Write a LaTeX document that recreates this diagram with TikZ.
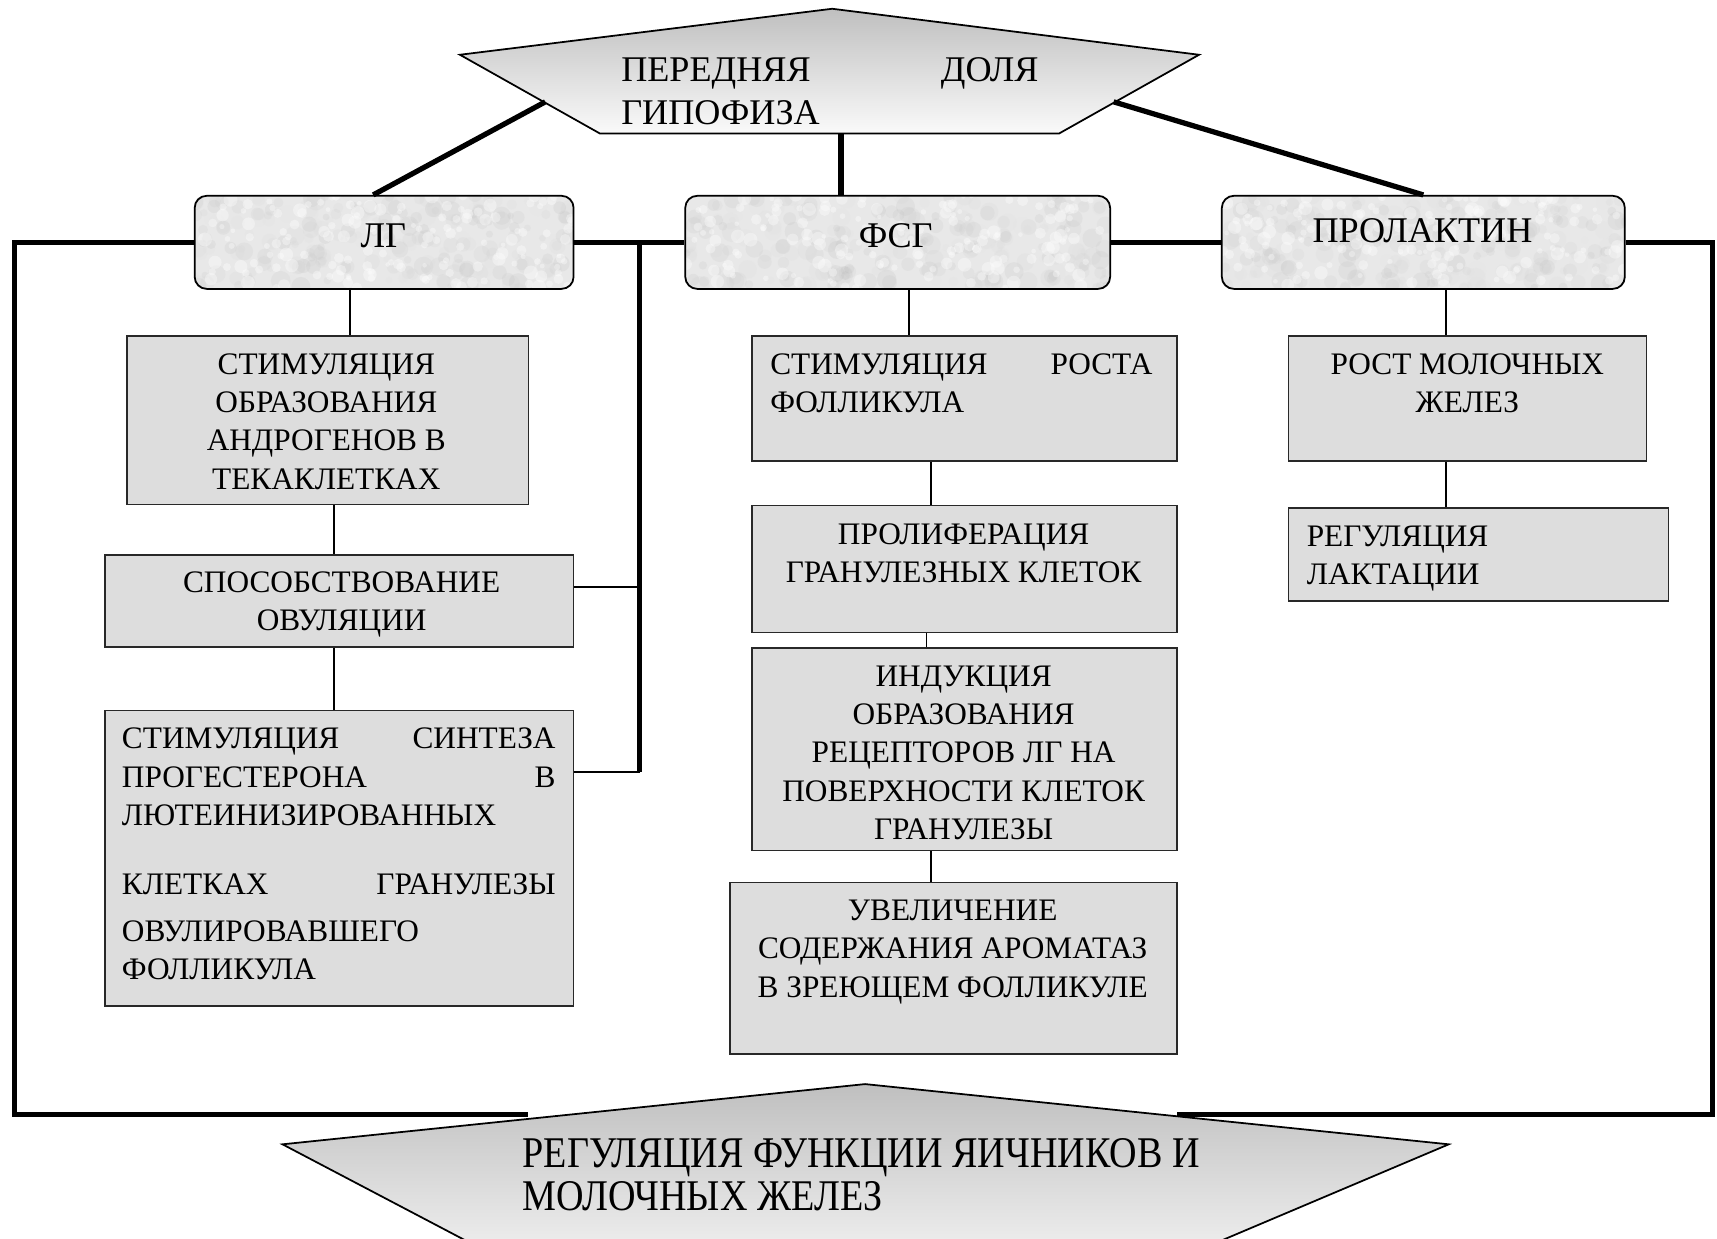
\documentclass[tikz,border=0pt]{standalone}
\usepackage{fontspec}
\setmainfont{Liberation Serif}
\newfontfamily\narrowserif[FakeStretch=0.87]{Liberation Serif}
\usetikzlibrary{calc}

\definecolor{boxgray}{RGB}{221,221,221}
\definecolor{edgegray}{RGB}{40,40,40}
\definecolor{granitebase}{RGB}{232,232,232}

\pgfdeclarelayer{background}
\pgfsetlayers{background,main}

\tikzset{
  fact/.style={rectangle, draw=edgegray, line width=0.75pt, fill=boxgray, inner sep=0pt, anchor=north west},
  horm/.style={rectangle, draw=black, line width=0.8pt, rounded corners=5.5pt, inner sep=0pt, anchor=north west},
  lbl/.style={inner sep=0pt, font=\fontsize{14.3}{17.5}\selectfont},
  big/.style={inner sep=0pt, font=\fontsize{16.5}{19.5}\selectfont},
  heavy/.style={line width=2.4pt},
  medium/.style={line width=1.3pt},
  slim/.style={line width=0.8pt},
  pent/.style={draw=black, line width=0.8pt, top color=gray!50, bottom color=gray!4},
}

% mottled stone texture behind a rounded hormone box
\newcommand\granite[2]{%
  \begin{pgfonlayer}{background}
    \begin{scope}
      \clip[rounded corners=5.5pt] (#1.north west) rectangle (#1.south east);
      \fill[granitebase] (#1.north west) rectangle (#1.south east);
      \foreach \k in {1,...,260}{%
        \pgfmathsetmacro\gu{rnd}%
        \pgfmathsetmacro\gv{rnd*#2}%
        \pgfmathsetmacro\gg{int(10+20*rnd)}%
        \pgfmathsetmacro\gr{1.5+3*rnd}%
        \fill[black!\gg, opacity=0.16] ($(#1.north west)!\gu!(#1.north east)+(0,\gv)$) circle (\gr pt);
      }
      \foreach \k in {1,...,160}{%
        \pgfmathsetmacro\gu{rnd}%
        \pgfmathsetmacro\gv{rnd*#2}%
        \pgfmathsetmacro\gr{1+2.2*rnd}%
        \fill[white, opacity=0.35] ($(#1.north west)!\gu!(#1.north east)+(0,\gv)$) circle (\gr pt);
      }
    \end{scope}
  \end{pgfonlayer}}

\begin{document}
\begin{tikzpicture}[x=0.5pt, y=-0.5pt, line join=miter]
\pgfmathsetseed{11}
\useasboundingbox (0,0) rectangle (1568,1131);
\clip (0,0) rectangle (1568,1131);

% ---------- top pentagon ----------
\coordinate (pa) at (760,8);
\coordinate (pl) at (420,50);
\coordinate (pr) at (1095,50);
\coordinate (pbl) at (548,122);
\coordinate (pbr) at (967,122);
\shadedraw[pent] (pa) -- (pr) -- (pbr) -- (pbl) -- (pl) -- cycle;
\node[big, anchor=north west, text width=190.5pt, align=left] (toptext) at (567,52)
  {ПЕРЕДНЯЯ\hfill ДОЛЯ\\ГИПОФИЗА};
\coordinate (pleft) at (498,93);
\coordinate (pright) at (1017,93);
\coordinate (pmid) at (768,122);

% ---------- hormone boxes ----------
\node[horm, minimum width=173pt, minimum height=42.5pt] (lg) at (177,178) {};
\node[horm, minimum width=194pt, minimum height=42.5pt] (fsg) at (625,178) {};
\node[horm, minimum width=184pt, minimum height=42.5pt] (prl) at (1115,178) {};
\granite{lg}{85}
\granite{fsg}{85}
\granite{prl}{85}
\node[big, anchor=north] (lgtext) at (350,204) {ЛГ};
\node[big, anchor=north] (fsgtext) at (818,204) {ФСГ};
\node[big, anchor=north] (prltext) at (1299,199) {ПРОЛАКТИН};

% ---------- effect boxes: LH ----------
\node[fact, minimum width=183.5pt, minimum height=77pt] (b1) at (115,306) {};
\node[fact, minimum width=214pt, minimum height=42pt] (b2) at (95,506) {};
\node[fact, minimum width=214pt, minimum height=135pt] (b3) at (95,648) {};
\node[lbl, anchor=north, align=center] (t1) at (298,322.5)
  {СТИМУЛЯЦИЯ\\ОБРАЗОВАНИЯ\\АНДРОГЕНОВ В\\ТЕКАКЛЕТКАХ};
\node[lbl, anchor=north, align=center] (t2) at (312,521.5)
  {СПОСОБСТВОВАНИЕ\\ОВУЛЯЦИИ};
\node[lbl, anchor=north west, text width=198pt, align=left] (t3) at (111,664.5)
  {СТИМУЛЯЦИЯ\hfill СИНТЕЗА\\
   ПРОГЕСТЕРОНА\hfill В\\
   ЛЮТЕИНИЗИРОВАННЫХ\\[14pt]
   КЛЕТКАХ\hfill ГРАНУЛЕЗЫ\hspace*{5pt}\\[4pt]
   ОВУЛИРОВАВШЕГО\\
   ФОЛЛИКУЛА};

% ---------- effect boxes: FSH ----------
\node[fact, minimum width=194pt, minimum height=57pt] (ba) at (686,306) {};
\node[fact, minimum width=194pt, minimum height=58pt] (bb) at (686,461) {};
\node[fact, minimum width=194pt, minimum height=92.5pt] (bc) at (686,591) {};
\node[fact, minimum width=204pt, minimum height=78.5pt] (bd) at (666,805) {};
\node[lbl, anchor=north west, text width=174.5pt, align=left] (ta) at (703,322.5)
  {СТИМУЛЯЦИЯ\hfill РОСТА\\ФОЛЛИКУЛА};
\node[lbl, anchor=north, align=center] (tb) at (880,477.5)
  {ПРОЛИФЕРАЦИЯ\\ГРАНУЛЕЗНЫХ КЛЕТОК};
\node[lbl, anchor=north, align=center] (tc) at (880,607.5)
  {ИНДУКЦИЯ\\ОБРАЗОВАНИЯ\\РЕЦЕПТОРОВ ЛГ НА\\ПОВЕРХНОСТИ КЛЕТОК\\ГРАНУЛЕЗЫ};
\node[lbl, anchor=north, align=center] (td) at (870,821.5)
  {УВЕЛИЧЕНИЕ\\СОДЕРЖАНИЯ АРОМАТАЗ\\В ЗРЕЮЩЕМ ФОЛЛИКУЛЕ};

% ---------- effect boxes: prolactin ----------
\node[fact, minimum width=163.5pt, minimum height=57pt] (r1) at (1176,306) {};
\node[fact, minimum width=173.5pt, minimum height=42.5pt] (r2) at (1176,463) {};
\node[lbl, anchor=north, align=center] (tr1) at (1340,322.5)
  {РОСТ МОЛОЧНЫХ\\ЖЕЛЕЗ};
\node[lbl, anchor=north west, align=left] (tr2) at (1193,479.5)
  {РЕГУЛЯЦИЯ\\ЛАКТАЦИИ};

% ---------- links from the pituitary ----------
\path (lg.north) ++(-10,0) coordinate (lgtop);
\draw[heavy] (pleft) -- (lgtop);
\draw[heavy] (pright) -- (prl.north);
\draw[heavy] (pmid) -- (pmid |- fsg.north);

% ---------- horizontal bus between hormones ----------
\draw[heavy] (lg.east) -- (fsg.west);
\draw[heavy] (fsg.east) -- (prl.west);
\coordinate (busT) at (584,220);
\path (b3.north east) ++(0,57) coordinate (b3hook);
\path (b2.east) ++(0,-13) coordinate (b2hook);
\draw[heavy] (busT) -- (busT |- b3hook);
\draw[medium] (b3hook) -- (busT |- b3hook);
\draw[slim] (b2hook) -- (busT |- b2hook);

% ---------- vertical chains ----------
\path (lg.south) ++(-31,0) coordinate (lgdrop);
\draw[slim] (lgdrop) -- (lgdrop |- b1.north);
\coordinate (c12) at (305,460);
\draw[slim] (c12 |- b1.south) -- (c12 |- b2.north);
\draw[slim] (c12 |- b2.south) -- (c12 |- b3.north);

\path (fsg.south) ++(10,0) coordinate (fsgdrop);
\draw[slim] (fsgdrop) -- (fsgdrop |- ba.north);
\coordinate (cab) at (850,420);
\draw[slim] (cab |- ba.south) -- (cab |- bb.north);
\coordinate (cbc) at (846,577);
\draw[slim] (cbc |- bb.south) -- (cbc |- bc.north);
\coordinate (ccd) at (850,776);
\draw[slim] (ccd |- bc.south) -- (ccd |- bd.north);

\path (prl.south) ++(21,0) coordinate (prldrop);
\draw[slim] (prldrop) -- (prldrop |- r1.north);
\draw[slim] (prldrop |- r1.south) -- (prldrop |- r2.north);

% ---------- bottom pentagon ----------
\coordinate (qa) at (790,990);
\coordinate (ql) at (258,1045);
\coordinate (qr) at (1323,1045);
\coordinate (qbl) at (515,1180);
\coordinate (qbr) at (1004,1180);
\shadedraw[pent] (qa) -- (qr) -- (qbr) -- (qbl) -- (ql) -- cycle;
\node[anchor=north west, inner sep=0pt, align=left,
      font=\narrowserif\fontsize{20}{20}\selectfont] (bottext) at (477,1039)
  {РЕГУЛЯЦИЯ ФУНКЦИИ ЯИЧНИКОВ И\\МОЛОЧНЫХ ЖЕЛЕЗ};

% ---------- outer feedback frame ----------
\coordinate (fl) at (13,1018);
\coordinate (fr) at (1564,1018);
\coordinate (endl) at (482,1018);
\coordinate (endr) at (1075,1018);
\draw[heavy] (lg.west) -| (fl) -- (endl);
\draw[heavy] (prl.east) -| (fr) -- (endr);
\end{tikzpicture}
\end{document}
